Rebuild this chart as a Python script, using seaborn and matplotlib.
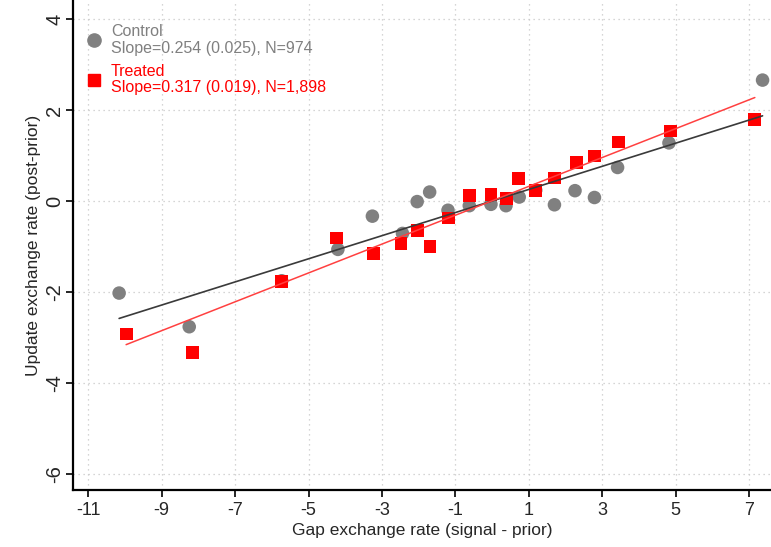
import numpy as np
import pandas as pd
import matplotlib.pyplot as plt
import seaborn as sns
from matplotlib.lines import Line2D

# binned means
control_x = [-10.16, -8.25, -5.73, -4.20, -3.26, -2.44, -2.04, -1.70, -1.20, -0.62,
             -0.03, 0.38, 0.74, 1.19, 1.70, 2.26, 2.79, 3.42, 4.82, 7.37]
control_y = [-2.02, -2.76, -1.75, -1.06, -0.33, -0.71, -0.01, 0.20, -0.20, -0.10,
             -0.07, -0.10, 0.09, 0.24, -0.08, 0.23, 0.08, 0.74, 1.28, 2.66]
treated_x = [-9.97, -8.17, -5.74, -4.23, -3.23, -2.48, -2.03, -1.69, -1.18, -0.62,
             -0.03, 0.40, 0.72, 1.19, 1.70, 2.29, 2.79, 3.44, 4.87, 7.16]
treated_y = [-2.92, -3.32, -1.76, -0.81, -1.15, -0.93, -0.64, -1.00, -0.37, 0.12,
             0.15, 0.06, 0.50, 0.24, 0.51, 0.85, 0.99, 1.30, 1.54, 1.80]

# fitted lines (slope from the legend, intercept)
control_fit = (0.003, 0.254)
treated_fit = (0.007, 0.317)

control_label = "Control\nSlope=0.254 (0.025), N=974"
treated_label = "Treated\nSlope=0.317 (0.019), N=1,898"

x_ticks = [-11, -9, -7, -5, -3, -1, 1, 3, 5, 7]
y_ticks = [-6, -4, -2, 0, 2, 4]

gray = "#808080"
red = "#ff0000"

sns.set_style("white")
plt.rcParams["font.family"] = ["Liberation Sans", "DejaVu Sans"]
plt.rcParams["axes.unicode_minus"] = False

fig = plt.figure(figsize=(7.71, 5.47), dpi=100)
ax = fig.add_axes([0.095, 0.104, 0.905, 0.896])

ctrl = pd.DataFrame({"x": control_x, "y": control_y})
trt = pd.DataFrame({"x": treated_x, "y": treated_y})

sns.scatterplot(data=ctrl, x="x", y="y", color=gray, marker="o", s=95,
                edgecolor="none", ax=ax, zorder=3)
sns.scatterplot(data=trt, x="x", y="y", color=red, marker="s", s=85,
                edgecolor="none", ax=ax, zorder=4)

cx = np.array([min(control_x), max(control_x)])
tx = np.array([min(treated_x), max(treated_x)])
sns.lineplot(x=cx, y=control_fit[0] + control_fit[1] * cx, color="#3a3a3a",
             linewidth=1.2, ax=ax, zorder=5)
sns.lineplot(x=tx, y=treated_fit[0] + treated_fit[1] * tx, color="#ff4040",
             linewidth=1.1, ax=ax, zorder=5)

ax.set_xlim(-11.41, 7.6)
ax.set_ylim(-6.35, 4.42)
ax.set_xticks(x_ticks)
ax.set_yticks(y_ticks)
ax.grid(True, linestyle=(0, (1, 3)), color="#c8c8c8", linewidth=0.9)

for side in ["top", "right"]:
    ax.spines[side].set_visible(False)
for side in ["left", "bottom"]:
    ax.spines[side].set_linewidth(1.6)
    ax.spines[side].set_color("black")

ax.tick_params(axis="both", direction="out", length=5, width=1.2,
               left=True, bottom=True, color="black")
ax.tick_params(axis="x", labelsize=13)
ax.tick_params(axis="y", labelrotation=90, pad=1.5, labelsize=14.5)
for t in ax.get_yticklabels():
    t.set_verticalalignment("center")

ax.set_xlabel("Gap exchange rate (signal - prior)", fontsize=12.5, labelpad=3)
ax.set_ylabel("Update exchange rate (post-prior)", fontsize=12.5, labelpad=3)

handles = [Line2D([], [], marker="o", linestyle="none", color=gray, markersize=9.5),
           Line2D([], [], marker="s", linestyle="none", color=red, markersize=9)]
leg = ax.legend(handles, [control_label, treated_label], loc="upper left",
                frameon=False, fontsize=11.5, handletextpad=0.45, labelspacing=0.5,
                borderaxespad=0.3, handlelength=1.2, bbox_to_anchor=(0.0, 0.973))
for txt, c in zip(leg.get_texts(), [gray, red]):
    txt.set_color(c)
    txt.set_linespacing(1.1)

plt.savefig("out.png", dpi=100)
